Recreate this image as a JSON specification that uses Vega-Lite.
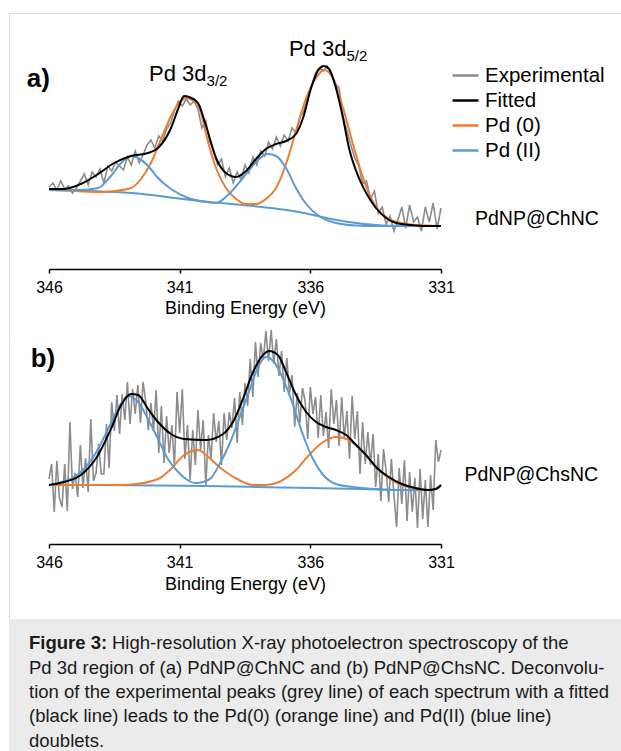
{
  "$schema": "https://vega.github.io/schema/vega-lite/v6.json",
  "padding": {"left": 8, "top": 12, "right": 0, "bottom": 0},
  "autosize": {"type": "pad"},
  "background": "white",
  "bounds": "flush",
  "spacing": -1,
  "resolve": {"scale": {"x": "independent", "y": "independent", "color": "independent"}, "legend": {"color": "independent"}},
  "config": {
    "font": "Liberation Sans",
    "axis": {"labelFont": "Liberation Sans", "titleFont": "Liberation Sans", "labelColor": "#000", "titleColor": "#000", "domainColor": "#000", "tickColor": "#000", "grid": false},
    "legend": {"labelFont": "Liberation Sans"}
  },
  "datasets": {
    "a_exp": [
      {"eV":346.00,"counts":82},{"eV":345.85,"counts":86},{"eV":345.70,"counts":79},{"eV":345.55,"counts":88},{"eV":345.40,"counts":80},{"eV":345.25,"counts":83},{"eV":345.10,"counts":76},{"eV":344.95,"counts":81},{"eV":344.80,"counts":88},{"eV":344.65,"counts":95},
      {"eV":344.50,"counts":84},{"eV":344.35,"counts":97},{"eV":344.20,"counts":92},{"eV":344.05,"counts":100},{"eV":343.90,"counts":86},{"eV":343.75,"counts":103},{"eV":343.60,"counts":98},{"eV":343.45,"counts":107},{"eV":343.30,"counts":103},{"eV":343.15,"counts":99},
      {"eV":343.00,"counts":112},{"eV":342.85,"counts":104},{"eV":342.70,"counts":118},{"eV":342.55,"counts":106},{"eV":342.40,"counts":114},{"eV":342.25,"counts":124},{"eV":342.10,"counts":129},{"eV":341.95,"counts":121},{"eV":341.80,"counts":133},{"eV":341.65,"counts":128},
      {"eV":341.50,"counts":140},{"eV":341.35,"counts":146},{"eV":341.20,"counts":158},{"eV":341.05,"counts":168},{"eV":340.90,"counts":163},{"eV":340.75,"counts":170},{"eV":340.60,"counts":164},{"eV":340.45,"counts":168},{"eV":340.30,"counts":160},{"eV":340.15,"counts":141},
      {"eV":340.00,"counts":148},{"eV":339.85,"counts":128},{"eV":339.70,"counts":119},{"eV":339.55,"counts":104},{"eV":339.40,"counts":110},{"eV":339.25,"counts":92},{"eV":339.10,"counts":101},{"eV":338.95,"counts":86},{"eV":338.80,"counts":97},{"eV":338.65,"counts":89},
      {"eV":338.50,"counts":104},{"eV":338.35,"counts":96},{"eV":338.20,"counts":112},{"eV":338.05,"counts":104},{"eV":337.90,"counts":118},{"eV":337.75,"counts":113},{"eV":337.60,"counts":127},{"eV":337.45,"counts":120},{"eV":337.30,"counts":132},{"eV":337.15,"counts":123},
      {"eV":337.00,"counts":134},{"eV":336.85,"counts":128},{"eV":336.70,"counts":141},{"eV":336.55,"counts":136},{"eV":336.40,"counts":152},{"eV":336.25,"counts":158},{"eV":336.10,"counts":172},{"eV":335.95,"counts":184},{"eV":335.80,"counts":196},{"eV":335.65,"counts":201},
      {"eV":335.50,"counts":198},{"eV":335.35,"counts":203},{"eV":335.20,"counts":194},{"eV":335.05,"counts":186},{"eV":334.90,"counts":181},{"eV":334.75,"counts":153},{"eV":334.60,"counts":138},{"eV":334.45,"counts":124},{"eV":334.30,"counts":111},{"eV":334.15,"counts":104},
      {"eV":334.00,"counts":85},{"eV":333.85,"counts":88},{"eV":333.70,"counts":70},{"eV":333.55,"counts":78},{"eV":333.40,"counts":56},{"eV":333.25,"counts":62},{"eV":333.10,"counts":45},{"eV":332.95,"counts":53},{"eV":332.80,"counts":38},{"eV":332.65,"counts":49},
      {"eV":332.50,"counts":62},{"eV":332.35,"counts":41},{"eV":332.20,"counts":64},{"eV":332.05,"counts":47},{"eV":331.90,"counts":52},{"eV":331.75,"counts":38},{"eV":331.60,"counts":62},{"eV":331.45,"counts":47},{"eV":331.30,"counts":66},{"eV":331.15,"counts":40},
      {"eV":331.00,"counts":61}
    ],
    "a_fit": [
      {"eV":346.0,"counts":80},{"eV":345.43,"counts":80},{"eV":344.78,"counts":85},{"eV":344.12,"counts":95},{"eV":343.51,"counts":106},{"eV":342.86,"counts":113},{"eV":342.21,"counts":116},{"eV":341.83,"counts":121},{"eV":341.33,"counts":141},{"eV":341.06,"counts":160},
      {"eV":340.83,"counts":173},{"eV":340.64,"counts":172},{"eV":340.30,"counts":166},{"eV":339.99,"counts":143},{"eV":339.61,"counts":111},{"eV":339.23,"counts":96},{"eV":338.84,"counts":92},{"eV":338.46,"counts":98},{"eV":338.08,"counts":110},{"eV":337.70,"counts":120},
      {"eV":337.31,"counts":125},{"eV":336.93,"counts":128},{"eV":336.55,"counts":135},{"eV":336.28,"counts":151},{"eV":335.97,"counts":181},{"eV":335.67,"counts":200},{"eV":335.48,"counts":203},{"eV":335.28,"counts":200},{"eV":335.02,"counts":181},{"eV":334.75,"counts":151},
      {"eV":334.52,"counts":121},{"eV":334.14,"counts":91},{"eV":333.75,"counts":71},{"eV":333.49,"counts":61},{"eV":333.10,"counts":51},{"eV":332.72,"counts":46},{"eV":332.15,"counts":44},{"eV":331.57,"counts":43},{"eV":331.0,"counts":43}
    ],
    "a_pd0": [
      {"eV":346.0,"counts":79},{"eV":345.0,"counts":78},{"eV":344.0,"counts":77},{"eV":343.51,"counts":78},{"eV":342.86,"counts":81},{"eV":342.48,"counts":90},{"eV":342.10,"counts":106},{"eV":341.71,"counts":130},{"eV":341.33,"counts":153},{"eV":341.02,"counts":166},
      {"eV":340.76,"counts":171},{"eV":340.45,"counts":168},{"eV":340.18,"counts":156},{"eV":339.99,"counts":135},{"eV":339.61,"counts":101},{"eV":339.23,"counts":81},{"eV":338.84,"counts":70},{"eV":338.46,"counts":65},{"eV":338.08,"counts":65},{"eV":337.70,"counts":70},
      {"eV":337.31,"counts":81},{"eV":336.93,"counts":105},{"eV":336.55,"counts":138},{"eV":336.16,"counts":171},{"eV":335.78,"counts":191},{"eV":335.48,"counts":199},{"eV":335.13,"counts":191},{"eV":334.75,"counts":161},{"eV":334.37,"counts":125},{"eV":333.98,"counts":91},
      {"eV":333.68,"counts":71},{"eV":333.37,"counts":58},{"eV":332.99,"counts":50},{"eV":332.53,"counts":46},{"eV":331.95,"counts":44},{"eV":331.0,"counts":43}
    ],
    "a_pd2": [
      {"eV":346.0,"counts":79},{"eV":344.78,"counts":79},{"eV":344.12,"counts":81},{"eV":343.63,"counts":93},{"eV":343.24,"counts":106},{"eV":342.86,"counts":113},{"eV":342.59,"counts":111},{"eV":342.21,"counts":103},{"eV":341.83,"counts":91},{"eV":341.33,"counts":80},
      {"eV":340.68,"counts":71},{"eV":339.99,"counts":67},{"eV":339.61,"counts":66},{"eV":339.11,"counts":75},{"eV":338.46,"counts":95},{"eV":337.96,"counts":110},{"eV":337.62,"counts":115},{"eV":337.31,"counts":113},{"eV":336.93,"counts":101},{"eV":336.55,"counts":81},
      {"eV":336.16,"counts":65},{"eV":335.67,"counts":53},{"eV":335.02,"counts":46},{"eV":334.25,"counts":43.5},{"eV":333.49,"counts":43},{"eV":331.0,"counts":43}
    ],
    "a_bg": [
      {"eV":346.0,"counts":79},{"eV":342.86,"counts":76},{"eV":340.57,"counts":69},{"eV":339.03,"counts":65},{"eV":337.5,"counts":61},{"eV":336.24,"counts":56},{"eV":335.21,"counts":50},{"eV":333.94,"counts":45},{"eV":332.64,"counts":43},{"eV":331.0,"counts":43}
    ],
    "b_exp": [
      {"eV":346.0,"counts":65},{"eV":345.9,"counts":80},{"eV":345.8,"counts":32},{"eV":345.7,"counts":83},{"eV":345.6,"counts":46},{"eV":345.5,"counts":37},{"eV":345.4,"counts":80},{"eV":345.3,"counts":33},{"eV":345.2,"counts":122},{"eV":345.1,"counts":55},
      {"eV":345.0,"counts":71},{"eV":344.9,"counts":47},{"eV":344.8,"counts":99},{"eV":344.7,"counts":56},{"eV":344.6,"counts":86},{"eV":344.5,"counts":52},{"eV":344.4,"counts":125},{"eV":344.3,"counts":63},{"eV":344.2,"counts":71},{"eV":344.1,"counts":100},
      {"eV":344.0,"counts":70},{"eV":343.9,"counts":70},{"eV":343.8,"counts":120},{"eV":343.7,"counts":76},{"eV":343.6,"counts":142},{"eV":343.5,"counts":113},{"eV":343.4,"counts":149},{"eV":343.3,"counts":110},{"eV":343.2,"counts":150},{"eV":343.1,"counts":124},
      {"eV":343.0,"counts":162},{"eV":342.9,"counts":120},{"eV":342.8,"counts":155},{"eV":342.7,"counts":130},{"eV":342.6,"counts":159},{"eV":342.5,"counts":121},{"eV":342.4,"counts":162},{"eV":342.3,"counts":143},{"eV":342.2,"counts":114},{"eV":342.1,"counts":141},
      {"eV":342.0,"counts":113},{"eV":341.9,"counts":154},{"eV":341.8,"counts":91},{"eV":341.7,"counts":138},{"eV":341.6,"counts":81},{"eV":341.5,"counts":128},{"eV":341.4,"counts":91},{"eV":341.3,"counts":119},{"eV":341.2,"counts":78},{"eV":341.1,"counts":152},
      {"eV":341.0,"counts":111},{"eV":340.9,"counts":155},{"eV":340.8,"counts":85},{"eV":340.7,"counts":119},{"eV":340.6,"counts":64},{"eV":340.5,"counts":114},{"eV":340.4,"counts":79},{"eV":340.3,"counts":134},{"eV":340.2,"counts":94},{"eV":340.1,"counts":124},
      {"eV":340.0,"counts":59},{"eV":339.9,"counts":109},{"eV":339.8,"counts":85},{"eV":339.7,"counts":131},{"eV":339.6,"counts":102},{"eV":339.5,"counts":123},{"eV":339.4,"counts":79},{"eV":339.3,"counts":131},{"eV":339.2,"counts":104},{"eV":339.1,"counts":132},
      {"eV":339.0,"counts":116},{"eV":338.9,"counts":146},{"eV":338.8,"counts":101},{"eV":338.7,"counts":152},{"eV":338.6,"counts":119},{"eV":338.5,"counts":161},{"eV":338.4,"counts":138},{"eV":338.3,"counts":185},{"eV":338.2,"counts":147},{"eV":338.1,"counts":202},
      {"eV":338.0,"counts":167},{"eV":337.9,"counts":201},{"eV":337.8,"counts":184},{"eV":337.7,"counts":213},{"eV":337.6,"counts":183},{"eV":337.5,"counts":214},{"eV":337.4,"counts":180},{"eV":337.3,"counts":205},{"eV":337.2,"counts":168},{"eV":337.1,"counts":193},
      {"eV":337.0,"counts":152},{"eV":336.9,"counts":186},{"eV":336.8,"counts":150},{"eV":336.7,"counts":169},{"eV":336.6,"counts":117},{"eV":336.5,"counts":151},{"eV":336.4,"counts":121},{"eV":336.3,"counts":156},{"eV":336.2,"counts":143},{"eV":336.1,"counts":105},
      {"eV":336.0,"counts":157},{"eV":335.9,"counts":130},{"eV":335.8,"counts":147},{"eV":335.7,"counts":106},{"eV":335.6,"counts":149},{"eV":335.5,"counts":108},{"eV":335.4,"counts":132},{"eV":335.3,"counts":96},{"eV":335.2,"counts":155},{"eV":335.1,"counts":120},
      {"eV":335.0,"counts":144},{"eV":334.9,"counts":98},{"eV":334.8,"counts":147},{"eV":334.7,"counts":105},{"eV":334.6,"counts":133},{"eV":334.5,"counts":85},{"eV":334.4,"counts":148},{"eV":334.3,"counts":105},{"eV":334.2,"counts":133},{"eV":334.1,"counts":70},
      {"eV":334.0,"counts":122},{"eV":333.9,"counts":80},{"eV":333.8,"counts":112},{"eV":333.7,"counts":79},{"eV":333.6,"counts":110},{"eV":333.5,"counts":57},{"eV":333.4,"counts":90},{"eV":333.3,"counts":43},{"eV":333.2,"counts":95},{"eV":333.1,"counts":73},
      {"eV":333.0,"counts":42},{"eV":332.9,"counts":85},{"eV":332.8,"counts":49},{"eV":332.7,"counts":17},{"eV":332.6,"counts":76},{"eV":332.5,"counts":40},{"eV":332.4,"counts":84},{"eV":332.3,"counts":23},{"eV":332.2,"counts":72},{"eV":332.1,"counts":32},
      {"eV":332.0,"counts":66},{"eV":331.9,"counts":16},{"eV":331.8,"counts":75},{"eV":331.7,"counts":25},{"eV":331.6,"counts":64},{"eV":331.5,"counts":17},{"eV":331.4,"counts":69},{"eV":331.3,"counts":34},{"eV":331.2,"counts":104},{"eV":331.1,"counts":82},
      {"eV":331.0,"counts":94}
    ],
    "b_fit": [
      {"eV":346.0,"counts":59},{"eV":345.43,"counts":62},{"eV":344.78,"counts":69},{"eV":344.12,"counts":89},{"eV":343.63,"counts":115},{"eV":343.24,"counts":139},{"eV":342.86,"counts":150},{"eV":342.59,"counts":149},{"eV":342.21,"counts":135},{"eV":341.83,"counts":122},
      {"eV":341.33,"counts":110},{"eV":340.83,"counts":105},{"eV":339.99,"counts":104},{"eV":339.34,"counts":110},{"eV":338.96,"counts":122},{"eV":338.58,"counts":145},{"eV":338.19,"counts":172},{"eV":337.81,"counts":189},{"eV":337.58,"counts":193},{"eV":337.24,"counts":189},
      {"eV":336.93,"counts":172},{"eV":336.55,"counts":149},{"eV":336.16,"counts":132},{"eV":335.78,"counts":122},{"eV":335.40,"counts":117},{"eV":335.02,"counts":114},{"eV":334.63,"counts":109},{"eV":334.25,"counts":99},{"eV":333.87,"counts":89},{"eV":333.49,"counts":77},
      {"eV":333.0,"counts":67},{"eV":332.5,"counts":60},{"eV":332.0,"counts":56},{"eV":331.5,"counts":54},{"eV":331.2,"counts":55},{"eV":331.0,"counts":59}
    ],
    "b_pd0": [
      {"eV":346.0,"counts":59},{"eV":343.5,"counts":59},{"eV":342.86,"counts":59.5},{"eV":341.83,"counts":65},{"eV":341.33,"counts":75},{"eV":340.83,"counts":89},{"eV":340.30,"counts":94},{"eV":339.99,"counts":89},{"eV":339.61,"counts":80},{"eV":339.23,"counts":72},
      {"eV":338.73,"counts":64},{"eV":338.19,"counts":59},{"eV":337.70,"counts":59},{"eV":337.20,"counts":62},{"eV":336.55,"counts":74},{"eV":336.05,"counts":89},{"eV":335.51,"counts":102},{"eV":335.02,"counts":107},{"eV":334.52,"counts":104},{"eV":333.98,"counts":92},
      {"eV":333.49,"counts":77},{"eV":333.0,"counts":66},{"eV":332.5,"counts":59},{"eV":332.0,"counts":56},{"eV":331.5,"counts":54},{"eV":331.2,"counts":55},{"eV":331.0,"counts":59}
    ],
    "b_pd2": [
      {"eV":346.0,"counts":59},{"eV":345.5,"counts":62},{"eV":345.16,"counts":65},{"eV":344.66,"counts":75},{"eV":344.12,"counts":95},{"eV":343.74,"counts":115},{"eV":343.36,"counts":135},{"eV":342.98,"counts":148},{"eV":342.59,"counts":142},{"eV":342.21,"counts":125},
      {"eV":341.83,"counts":105},{"eV":341.45,"counts":85},{"eV":341.06,"counts":72},{"eV":340.7,"counts":64},{"eV":340.4,"counts":61},{"eV":340.1,"counts":62},{"eV":339.8,"counts":66},{"eV":339.49,"counts":79},{"eV":339.11,"counts":99},{"eV":338.73,"counts":125},
      {"eV":338.35,"counts":152},{"eV":337.96,"counts":179},{"eV":337.70,"counts":187},{"eV":337.39,"counts":182},{"eV":337.04,"counts":165},{"eV":336.66,"counts":139},{"eV":336.28,"counts":109},{"eV":335.90,"counts":85},{"eV":335.51,"counts":69},{"eV":335.02,"counts":60},
      {"eV":334.37,"counts":57},{"eV":333.49,"counts":55},{"eV":332.5,"counts":54},{"eV":331.5,"counts":54},{"eV":331.2,"counts":55},{"eV":331.0,"counts":59}
    ],
    "b_bg": [
      {"eV":346.0,"counts":59},{"eV":344.0,"counts":59},{"eV":342.0,"counts":58.5},{"eV":340.0,"counts":58},{"eV":338.0,"counts":57},{"eV":336.0,"counts":56},{"eV":334.0,"counts":55},{"eV":332.5,"counts":54},{"eV":331.5,"counts":54},{"eV":331.2,"counts":55},{"eV":331.0,"counts":59}
    ],
    "labels": [
      {"panel":"a","kind":"tag","text":"a)","eV":346.85,"counts":190},
      {"panel":"a","kind":"peak","text":"Pd 3d","eV":342.17,"counts":188},
      {"panel":"a","kind":"sub","text":"3/2","eV":339.97,"counts":183},
      {"panel":"a","kind":"peak","text":"Pd 3d","eV":336.82,"counts":213},
      {"panel":"a","kind":"sub","text":"5/2","eV":334.62,"counts":208},
      {"panel":"a","kind":"sample","text":"PdNP@ChNC","eV":329.7,"counts":50},
      {"panel":"b","kind":"tag","text":"b)","eV":346.7,"counts":185},
      {"panel":"b","kind":"sample","text":"PdNP@ChsNC","eV":330.1,"counts":69}
    ],
    "caption": [
      {"line":1,"part":"lead","text":"Figure 3:"},
      {"line":1,"part":"rest","text":"High-resolution X-ray photoelectron spectroscopy of the"},
      {"line":2,"part":"body","text":"Pd 3d region of (a) PdNP@ChNC and (b) PdNP@ChsNC. Deconvolu-"},
      {"line":3,"part":"body","text":"tion of the experimental peaks (grey line) of each spectrum with a fitted"},
      {"line":4,"part":"body","text":"(black line) leads to the Pd(0) (orange line) and Pd(II) (blue line)"},
      {"line":5,"part":"body","text":"doublets."}
    ]
  },
  "vconcat": [
    {
      "width": 614,
      "height": 330,
      "view": {"stroke": "#dddddd", "strokeWidth": 1, "fill": "white"},
      "layer": [
        {"data": {"name": "a_exp"}, "mark": {"type": "line", "strokeWidth": 1.6},
         "encoding": {
           "x": {"field": "eV", "type": "quantitative", "scale": {"domain": [331, 346], "reverse": true, "range": [40, 432], "nice": false, "zero": false}, "axis": {"values": [346, 341, 336, 331], "offset": -74, "domainWidth": 1.5, "tickWidth": 1.5, "tickSize": 4, "labelFontSize": 16, "labelPadding": 6, "labelFlush": false, "title": "Binding Energy (eV)", "titleFontSize": 18, "titleFontWeight": "normal", "titlePadding": 4}},
           "y": {"field": "counts", "type": "quantitative", "scale": {"domain": [-74, 256], "nice": false, "zero": false}, "axis": null},
           "color": {"datum": "Experimental", "scale": {"domain": ["Experimental", "Fitted", "Pd (0)", "Pd (II)"], "range": ["#8c8c8c", "#000000", "#ED7D31", "#5B9BD5"]}, "legend": {"orient": "none", "legendX": 442, "legendY": 48, "title": null, "symbolType": "stroke", "symbolSize": 676, "symbolStrokeWidth": 2.5, "labelFontSize": 20.5, "labelColor": "#000", "labelOffset": 5, "rowPadding": 0, "padding": 0, "labelLimit": 300}}
         }},
        {"data": {"name": "a_bg"}, "mark": {"type": "line", "strokeWidth": 2, "color": "#5B9BD5", "interpolate": "monotone"},
         "encoding": {
           "x": {"field": "eV", "type": "quantitative"},
           "y": {"field": "counts", "type": "quantitative"}
         }},
        {"data": {"name": "a_pd0"}, "mark": {"type": "line", "strokeWidth": 2, "interpolate": "monotone"},
         "encoding": {
           "x": {"field": "eV", "type": "quantitative"},
           "y": {"field": "counts", "type": "quantitative"},
           "color": {"datum": "Pd (0)"}
         }},
        {"data": {"name": "a_pd2"}, "mark": {"type": "line", "strokeWidth": 2, "interpolate": "monotone"},
         "encoding": {
           "x": {"field": "eV", "type": "quantitative"},
           "y": {"field": "counts", "type": "quantitative"},
           "color": {"datum": "Pd (II)"}
         }},
        {"data": {"name": "a_fit"}, "mark": {"type": "line", "strokeWidth": 2, "interpolate": "monotone"},
         "encoding": {
           "x": {"field": "eV", "type": "quantitative"},
           "y": {"field": "counts", "type": "quantitative"},
           "color": {"datum": "Fitted"}
         }},
        {"data": {"name": "labels"}, "transform": [{"filter": "datum.panel === 'a' && datum.kind === 'tag'"}],
         "mark": {"type": "text", "fontWeight": "bold", "fontSize": 26, "align": "left", "baseline": "middle", "color": "#000"},
         "encoding": {"x": {"field": "eV", "type": "quantitative"}, "y": {"field": "counts", "type": "quantitative"}, "text": {"field": "text"}}},
        {"data": {"name": "labels"}, "transform": [{"filter": "datum.panel === 'a' && datum.kind === 'peak'"}],
         "mark": {"type": "text", "fontSize": 22, "align": "left", "baseline": "alphabetic", "color": "#000"},
         "encoding": {"x": {"field": "eV", "type": "quantitative"}, "y": {"field": "counts", "type": "quantitative"}, "text": {"field": "text"}}},
        {"data": {"name": "labels"}, "transform": [{"filter": "datum.panel === 'a' && datum.kind === 'sub'"}],
         "mark": {"type": "text", "fontSize": 15, "align": "left", "baseline": "alphabetic", "color": "#000"},
         "encoding": {"x": {"field": "eV", "type": "quantitative"}, "y": {"field": "counts", "type": "quantitative"}, "text": {"field": "text"}}},
        {"data": {"name": "labels"}, "transform": [{"filter": "datum.panel === 'a' && datum.kind === 'sample'"}],
         "mark": {"type": "text", "fontSize": 19.5, "align": "left", "baseline": "middle", "color": "#000"},
         "encoding": {"x": {"field": "eV", "type": "quantitative"}, "y": {"field": "counts", "type": "quantitative"}, "text": {"field": "text"}}}
      ]
    },
    {
      "width": 614,
      "height": 276,
      "view": {"stroke": null, "fill": "white"},
      "layer": [
        {"data": {"name": "b_exp"}, "mark": {"type": "line", "strokeWidth": 1.6},
         "encoding": {
           "x": {"field": "eV", "type": "quantitative", "scale": {"domain": [331, 346], "reverse": true, "range": [40, 432], "nice": false, "zero": false}, "axis": {"values": [346, 341, 336, 331], "offset": -75, "domainWidth": 1.5, "tickWidth": 1.5, "tickSize": 4, "labelFontSize": 16, "labelPadding": 6, "labelFlush": false, "title": "Binding Energy (eV)", "titleFontSize": 18, "titleFontWeight": "normal", "titlePadding": 5}},
           "y": {"field": "counts", "type": "quantitative", "scale": {"domain": [-75, 201], "nice": false, "zero": false}, "axis": {"domain": true, "domainColor": "#dddddd", "domainWidth": 1, "ticks": false, "labels": false, "title": null, "grid": false}},
           "color": {"datum": "Experimental", "scale": {"domain": ["Experimental", "Fitted", "Pd (0)", "Pd (II)"], "range": ["#8c8c8c", "#000000", "#ED7D31", "#5B9BD5"]}, "legend": null}
         }},
        {"data": {"name": "b_bg"}, "mark": {"type": "line", "strokeWidth": 2, "color": "#5B9BD5", "interpolate": "monotone"},
         "encoding": {
           "x": {"field": "eV", "type": "quantitative"},
           "y": {"field": "counts", "type": "quantitative"}
         }},
        {"data": {"name": "b_pd0"}, "mark": {"type": "line", "strokeWidth": 2, "interpolate": "monotone"},
         "encoding": {
           "x": {"field": "eV", "type": "quantitative"},
           "y": {"field": "counts", "type": "quantitative"},
           "color": {"datum": "Pd (0)", "legend": null}
         }},
        {"data": {"name": "b_pd2"}, "mark": {"type": "line", "strokeWidth": 2, "interpolate": "monotone"},
         "encoding": {
           "x": {"field": "eV", "type": "quantitative"},
           "y": {"field": "counts", "type": "quantitative"},
           "color": {"datum": "Pd (II)", "legend": null}
         }},
        {"data": {"name": "b_fit"}, "mark": {"type": "line", "strokeWidth": 2, "interpolate": "monotone"},
         "encoding": {
           "x": {"field": "eV", "type": "quantitative"},
           "y": {"field": "counts", "type": "quantitative"},
           "color": {"datum": "Fitted", "legend": null}
         }},
        {"data": {"name": "labels"}, "transform": [{"filter": "datum.panel === 'b' && datum.kind === 'tag'"}],
         "mark": {"type": "text", "fontWeight": "bold", "fontSize": 26, "align": "left", "baseline": "middle", "color": "#000"},
         "encoding": {"x": {"field": "eV", "type": "quantitative"}, "y": {"field": "counts", "type": "quantitative"}, "text": {"field": "text"}}},
        {"data": {"name": "labels"}, "transform": [{"filter": "datum.panel === 'b' && datum.kind === 'sample'"}],
         "mark": {"type": "text", "fontSize": 19.5, "align": "left", "baseline": "middle", "color": "#000"},
         "encoding": {"x": {"field": "eV", "type": "quantitative"}, "y": {"field": "counts", "type": "quantitative"}, "text": {"field": "text"}}}
      ]
    },
    {
      "width": 614,
      "height": 146,
      "view": {"stroke": null, "fill": "#ebebeb"},
      "data": {"name": "caption"},
      "encoding": {
        "x": {"datum": 0, "type": "quantitative", "scale": {"domain": [0, 1]}, "axis": null},
        "y": {"field": "line", "type": "ordinal", "scale": {"type": "point", "domain": [1, 2, 3, 4, 5], "padding": 1.04}, "axis": null},
        "text": {"field": "text"}
      },
      "layer": [
        {"transform": [{"filter": "datum.part === 'lead'"}], "mark": {"type": "text", "fontSize": 18.5, "fontWeight": "bold", "align": "left", "baseline": "middle", "dx": 20, "color": "#1a1a1a"}},
        {"transform": [{"filter": "datum.part === 'rest'"}], "mark": {"type": "text", "fontSize": 18.5, "align": "left", "baseline": "middle", "dx": 103, "color": "#1a1a1a"}},
        {"transform": [{"filter": "datum.part === 'body'"}], "mark": {"type": "text", "fontSize": 18.5, "align": "left", "baseline": "middle", "dx": 20, "color": "#1a1a1a"}}
      ]
    }
  ]
}
